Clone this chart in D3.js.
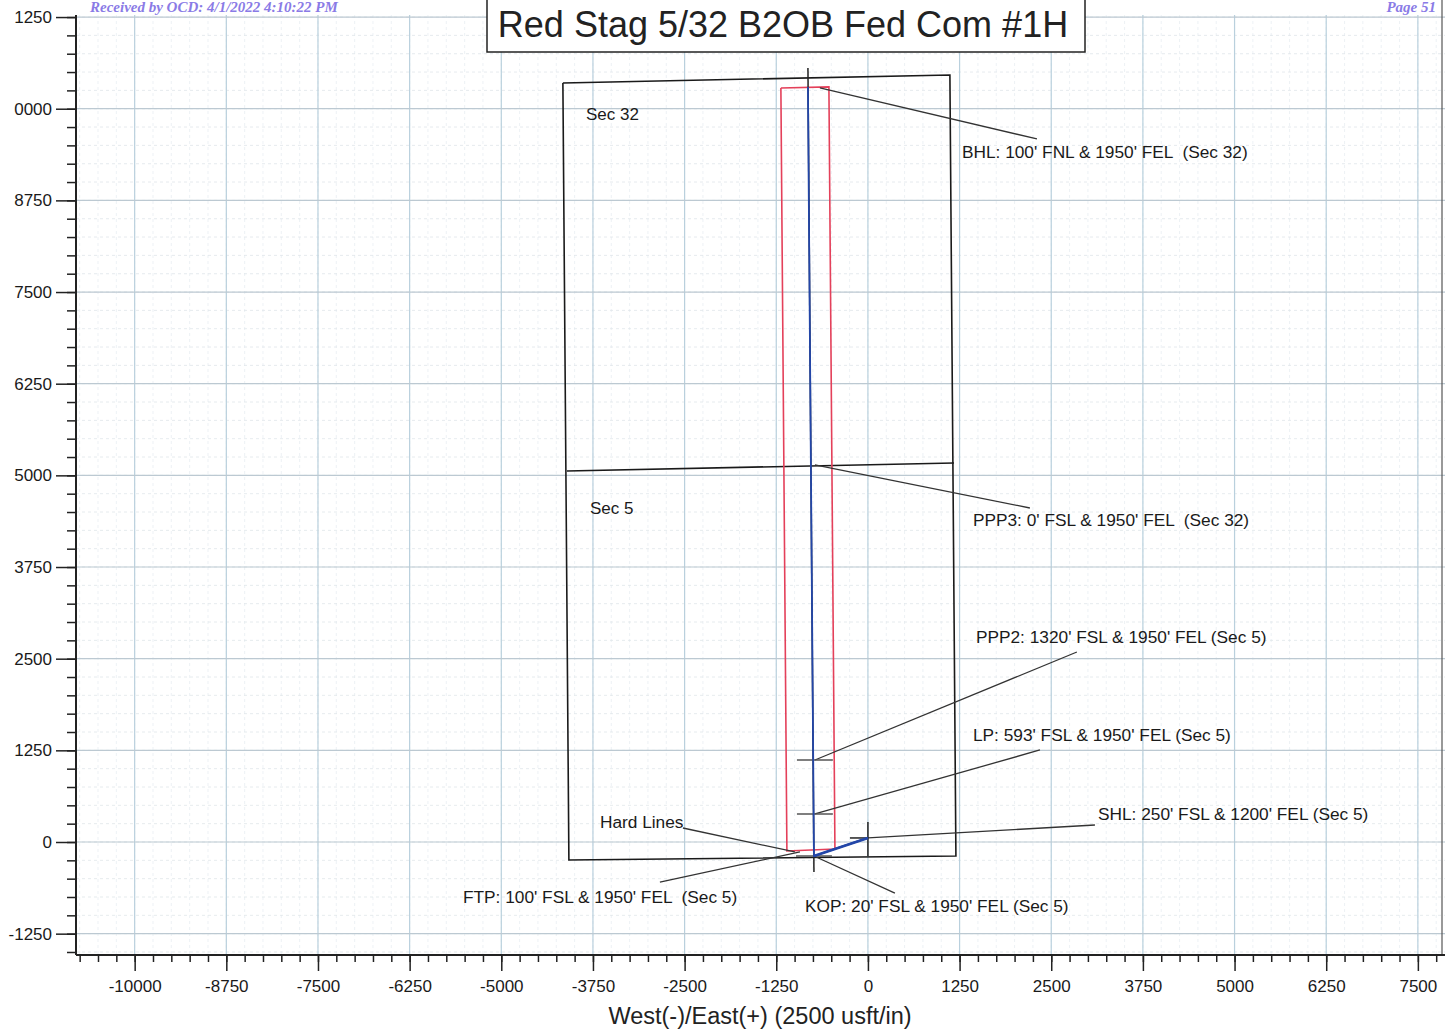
<!DOCTYPE html>
<html>
<head>
<meta charset="utf-8">
<script src="https://cdn.jsdelivr.net/npm/d3@7"></script>
<style>
  body { margin: 0; background: #fff; }
  svg { display: block; font-family: "Liberation Sans", Arial, sans-serif; }
</style>
</head>
<body>
<svg width="1454" height="1030"></svg>
<script>
// plan view values, all in usft (East +, North +)
const xTicks = [-10000, -8750, -7500, -6250, -5000, -3750, -2500, -1250, 0, 1250, 2500, 3750, 5000, 6250, 7500]
const yTicks = [-1250, 0, 1250, 2500, 3750, 5000, 6250, 7500, 8750, 10000, 11250]

const sectionOutline = [[-4160, 10351], [1118, 10460], [1200, -191], [-4078, -245], [-4160, 10351]]
const sectionDivide = [[-4105, 5060], [1173, 5169]]
const sectionNames = [
  { name: 'Sec 32', x: -3846, y: 9847 },
  { name: 'Sec 5', x: -3791, y: 4473 }
]

const hardLines = [[-1187, 10283], [-532, 10297], [-450, -95], [-1105, -123], [-1187, 10283]]
const planLine = [[-818, 10556], [-736, -409]]
const wellbore = [[0, 55], [-450, -95], [-736, -191], [-818, 10297]]
const shlCross = [[[0, 273], [0, -191]], [[-245, 55], [0, 55]]]
const wellMarks = [
  { x: -723, y: 1118 },
  { x: -723, y: 382 },
  { x: -736, y: -191 }
]

const callouts = [
  { text: "BHL: 100' FNL & 1950' FEL  (Sec 32)", from: [-655, 10283], to: [2305, 9588], lx: 1282, ly: 9328 },
  { text: "PPP3: 0' FSL & 1950' FEL  (Sec 32)", from: [-723, 5142], to: [2209, 4555], lx: 1432, ly: 4310 },
  { text: "PPP2: 1320' FSL & 1950' FEL (Sec 5)", from: [-723, 1118], to: [2850, 2591], lx: 1473, ly: 2714 },
  { text: "LP: 593' FSL & 1950' FEL (Sec 5)", from: [-723, 382], to: [2346, 1255], lx: 1432, ly: 1377 },
  { text: "SHL: 250' FSL & 1200' FEL (Sec 5)", from: [0, 55], to: [3096, 232], lx: 3137, ly: 300 },
  { text: "KOP: 20' FSL & 1950' FEL (Sec 5)", from: [-736, -191], to: [368, -696], lx: -859, ly: -955 },
  { text: "FTP: 100' FSL & 1950' FEL  (Sec 5)", from: [-927, -136], to: [-2837, -546], lx: -5523, ly: -832 },
  { text: 'Hard Lines', from: [-996, -136], to: [-2523, 191], lx: -3655, ly: 191 }
]

const title = 'Red Stag 5/32 B2OB Fed Com #1H'
const xTitle = 'West(-)/East(+) (2500 usft/in)'

const svg = d3.select('svg')
const plotLeft = 76, plotRight = 1445, plotTop = 15, plotBottom = 955

const xScale = d3.scaleLinear().domain([-10800, 7870]).range([plotLeft, plotRight])
const yScale = d3.scaleLinear().domain([-1541, 11278]).range([plotBottom, plotTop])
const line = d3.line().x(d => xScale(d[0])).y(d => yScale(d[1]))

// grid
const minorX = d3.range(-10750, 7870, 250)
const minorY = d3.range(-1500, 11278, 250)
const grid = svg.append('g')
grid.selectAll('.mx').data(minorX).join('line')
    .attr('x1', d => xScale(d)).attr('x2', d => xScale(d)).attr('y1', plotTop).attr('y2', plotBottom)
    .attr('stroke', '#e8eef2').attr('stroke-width', 0.8).attr('stroke-dasharray', '3,3')
grid.selectAll('.my').data(minorY).join('line')
    .attr('y1', d => yScale(d)).attr('y2', d => yScale(d)).attr('x1', plotLeft).attr('x2', plotRight)
    .attr('stroke', '#e0e6ea').attr('stroke-width', 0.8).attr('stroke-dasharray', '3,3')
grid.selectAll('.gx').data(xTicks).join('line')
    .attr('x1', d => xScale(d)).attr('x2', d => xScale(d)).attr('y1', plotTop).attr('y2', plotBottom)
    .attr('stroke', '#b9d0dd').attr('stroke-width', 1.2)
grid.selectAll('.gy').data(yTicks).join('line')
    .attr('y1', d => yScale(d)).attr('y2', d => yScale(d)).attr('x1', plotLeft).attr('x2', plotRight)
    .attr('stroke', '#bcc9d2').attr('stroke-width', 1.2)

// right frame
svg.append('line').attr('x1', 1442).attr('x2', 1442).attr('y1', 0).attr('y2', plotBottom)
   .attr('stroke', '#555').attr('stroke-width', 1.2)

// scanned-stamp text along the top edge
svg.append('text').text('Received by OCD: 4/1/2022 4:10:22 PM')
   .attr('x', 90).attr('y', 12)
   .style('font-family', '"Liberation Serif", serif').style('font-style', 'italic').style('font-weight', 'bold')
   .style('font-size', '15px').attr('fill', '#8a7be6')
svg.append('text').text('Page 51')
   .attr('x', 1436).attr('y', 12).attr('text-anchor', 'end')
   .style('font-family', '"Liberation Serif", serif').style('font-style', 'italic').style('font-weight', 'bold')
   .style('font-size', '15px').attr('fill', '#8a7be6')

// axes
const xMinor = d3.axisBottom(xScale).tickValues(minorX).tickSize(7).tickFormat('')
const xAxis = d3.axisBottom(xScale).tickValues(xTicks).tickSize(16).tickPadding(9)
                .tickFormat(d => String(d))
const yMinor = d3.axisLeft(yScale).tickValues(minorY).tickSize(9).tickFormat('')
const yAxis = d3.axisLeft(yScale).tickValues(yTicks).tickSize(20).tickPadding(4)
                .tickFormat(d => d >= 10000 ? String(d).slice(-4) : String(d))

svg.append('g').attr('transform', `translate(0, ${plotBottom})`).call(xMinor)
   .call(g => g.select('.domain').remove())
svg.append('g').attr('transform', `translate(0, ${plotBottom})`).call(xAxis)
   .call(g => g.select('.domain').attr('d', `M${plotLeft},0H${plotRight}`))
svg.append('g').attr('transform', `translate(${plotLeft}, 0)`).call(yMinor)
   .call(g => g.select('.domain').remove())
svg.append('g').attr('transform', `translate(${plotLeft}, 0)`).call(yAxis)
   .call(g => g.select('.domain').attr('d', `M0,${plotTop}V${plotBottom}`))

svg.selectAll('.tick line').attr('stroke', '#222').attr('stroke-width', 1.5)
svg.selectAll('.domain').attr('stroke', '#222').attr('stroke-width', 2)
svg.selectAll('.tick text').style('font-size', '17px').attr('fill', '#1a1a1a')
   .style('font-family', '"Liberation Sans", Arial, sans-serif')

svg.append('text').text(xTitle)
   .attr('x', 760).attr('y', 1024).attr('text-anchor', 'middle')
   .style('font-size', '23.5px').attr('fill', '#222')

// sections
const plot = svg.append('g')
plot.append('path').attr('d', line(sectionOutline)).attr('fill', 'none')
    .attr('stroke', '#1a1a1a').attr('stroke-width', 1.6)
plot.append('path').attr('d', line(sectionDivide)).attr('fill', 'none')
    .attr('stroke', '#1a1a1a').attr('stroke-width', 1.6)
plot.selectAll('.sec').data(sectionNames).join('text')
    .text(d => d.name).attr('x', d => xScale(d.x)).attr('y', d => yScale(d.y))
    .style('font-size', '17px').attr('fill', '#1a1a1a')

// hard lines
plot.append('path').attr('d', line(hardLines)).attr('fill', 'none')
    .attr('stroke', '#e4405a').attr('stroke-width', 1.6)

// callout leaders
plot.selectAll('.lead').data(callouts).join('line')
    .attr('x1', d => xScale(d.from[0])).attr('y1', d => yScale(d.from[1]))
    .attr('x2', d => xScale(d.to[0])).attr('y2', d => yScale(d.to[1]))
    .attr('stroke', '#333').attr('stroke-width', 1.3)

// plan line + wellbore
plot.append('path').attr('d', line(planLine)).attr('stroke', '#222').attr('stroke-width', 1.5)
plot.selectAll('.shl').data(shlCross).join('path').attr('d', d => line(d))
    .attr('stroke', '#222').attr('stroke-width', 1.5)
plot.selectAll('.mark').data(wellMarks).join('line')
    .attr('x1', d => xScale(d.x - 245)).attr('x2', d => xScale(d.x + 245))
    .attr('y1', d => yScale(d.y)).attr('y2', d => yScale(d.y))
    .attr('stroke', '#555').attr('stroke-width', 1.3)
plot.append('path').attr('d', line(wellbore)).attr('fill', 'none')
    .attr('stroke', '#2346a8').attr('stroke-width', 1.8)
plot.append('path').attr('d', line(wellbore.slice(0, 3))).attr('fill', 'none')
    .attr('stroke', '#2346a8').attr('stroke-width', 2.8)

plot.selectAll('.lbl').data(callouts).join('text')
    .text(d => d.text).attr('x', d => xScale(d.lx)).attr('y', d => yScale(d.ly))
    .style('white-space', 'pre')
    .style('font-size', '17.3px').attr('fill', '#1a1a1a')

// title box
svg.append('rect').attr('x', 487).attr('y', -2).attr('width', 598).attr('height', 54)
   .attr('fill', '#fff').attr('stroke', '#222').attr('stroke-width', 1.5)
svg.append('text').text(title).attr('x', 783).attr('y', 37).attr('text-anchor', 'middle')
   .style('font-size', '36px').attr('fill', '#222')
</script>
</body>
</html>
